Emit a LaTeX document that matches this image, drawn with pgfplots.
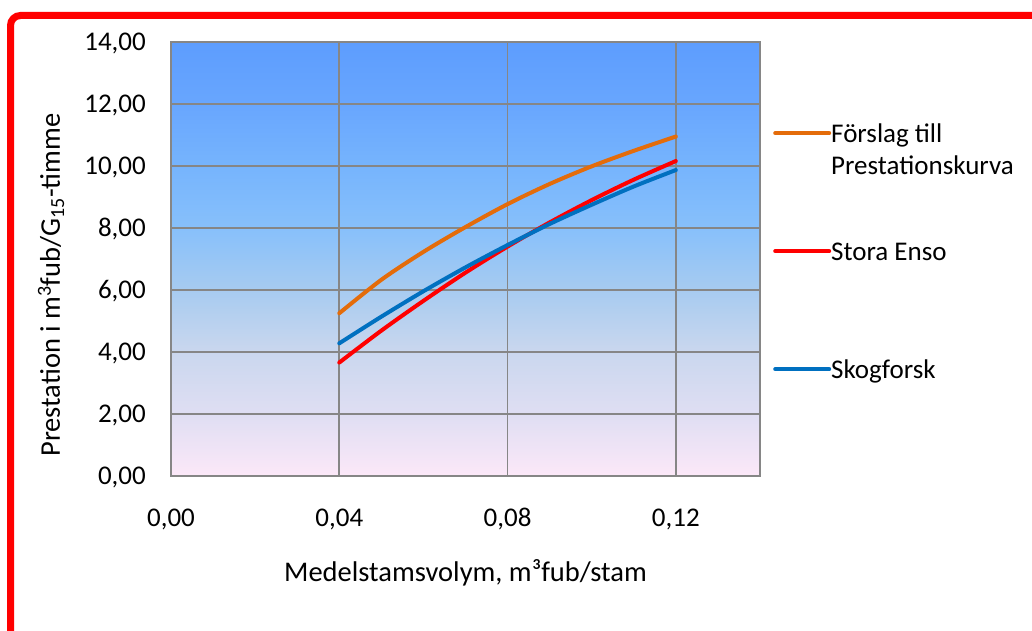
\documentclass[border=0pt]{standalone}
\usepackage{fontspec}
\setmainfont{Carlito}
\usepackage{pgfplots}
\pgfplotsset{compat=1.18}
\definecolor{exorange}{RGB}{228,108,10}
\definecolor{exred}{RGB}{255,0,0}
\definecolor{exblue}{RGB}{0,112,192}
\definecolor{gridgray}{RGB}{134,134,134}
\definecolor{bg14}{RGB}{93,157,254}
\definecolor{bg12}{RGB}{104,166,254}
\definecolor{bg10}{RGB}{118,180,253}
\definecolor{bg8}{RGB}{135,192,251}
\definecolor{bg6}{RGB}{167,203,240}
\definecolor{bg4}{RGB}{202,215,238}
\definecolor{bg2}{RGB}{223,222,243}
\definecolor{bg0}{RGB}{252,232,248}
\pgfdeclareverticalshading{bgshade}{100bp}{%
  color(0bp)=(bg0); color(25bp)=(bg0); color(32.14bp)=(bg2); color(39.29bp)=(bg4);
  color(46.43bp)=(bg6); color(53.57bp)=(bg8); color(60.71bp)=(bg10); color(67.86bp)=(bg12);
  color(75bp)=(bg14); color(100bp)=(bg14)}
\begin{document}
\fontsize{27}{32}\selectfont
\begin{tikzpicture}[x=1pt,y=1pt,font=\fontsize{27}{32}\selectfont]
\useasboundingbox (0,0) rectangle (1032,630);
\draw[red, line width=7pt, rounded corners=10pt] (10.5,-20) -- (10.5,614.5) -- (1060,614.5);
\begin{axis}[
  at={(171pt,154pt)}, anchor=south west, scale only axis,
  width=589pt, height=434pt,
  font=\fontsize{27}{32}\selectfont,
  xmin=0, xmax=0.14, ymin=0, ymax=14,
  xtick={0,0.04,0.08,0.12}, ytick={0,2,...,14},
  grid=major, grid style={gridgray, line width=1.8pt},
  axis line style={gridgray, line width=1.8pt},
  axis background/.style={shading=bgshade},
  major tick length=0pt,
  scaled x ticks=false, scaled y ticks=false,
  /pgf/number format/fixed, /pgf/number format/fixed zerofill,
  /pgf/number format/precision=2, /pgf/number format/use comma,
  /pgf/number format/assume math mode=true,
  xticklabel style={anchor=base, inner sep=0pt, yshift=-50pt},
  yticklabel style={anchor=base east, inner sep=0pt, xshift=-25pt, yshift=-8.5pt},
  xlabel={Medelstamsvolym, m³fub/stam},
  ylabel={Prestation i m\textsuperscript{3}fub/G\textsubscript{15}-timme},
  xlabel style={at={(axis description cs:0.5,-0.2442)}, anchor=base, inner sep=0pt, font=\fontsize{28.5}{34}\selectfont},
  ylabel style={at={(axis description cs:-0.1885,0.44)}, anchor=base, inner sep=0pt, font=\fontsize{28.5}{34}\selectfont},
  legend style={at={(axis description cs:1,1)}, anchor=north west, xshift=13pt, yshift=-77.6pt,
    draw=none, fill=none, inner sep=0pt, row sep=0pt, column sep=0pt,
    cells={anchor=base west}, nodes={inner sep=0pt, text depth=0pt},
    font=\fontsize{27}{32}\selectfont},
  legend image code/.code={\path (0pt,0pt); \draw[#1] (0pt,9pt) -- (54pt,9pt);},
]
\addplot[exorange, line width=4pt, line cap=round, smooth] coordinates {
 (0.04,5.25) (0.05,6.33) (0.06,7.23) (0.07,8.03) (0.08,8.77) (0.09,9.42) (0.10,9.99) (0.11,10.49) (0.12,10.95)};
\addlegendentry{{\begin{tabular}[t]{@{}l@{}}Förslag till\\Prestationskurva\end{tabular}}}
\addplot[exred, line width=4pt, line cap=round, smooth] coordinates {
 (0.04,3.66) (0.05,4.69) (0.06,5.65) (0.07,6.56) (0.08,7.40) (0.09,8.18) (0.10,8.90) (0.11,9.56) (0.12,10.16)};
\addlegendentry{\rule{0pt}{116pt}Stora Enso}
\addplot[exblue, line width=4pt, line cap=round, smooth] coordinates {
 (0.04,4.28) (0.05,5.14) (0.06,5.96) (0.07,6.73) (0.08,7.45) (0.09,8.13) (0.10,8.75) (0.11,9.34) (0.12,9.87)};
\addlegendentry{\rule{0pt}{116pt}Skogforsk}
\end{axis}
\end{tikzpicture}
\end{document}
